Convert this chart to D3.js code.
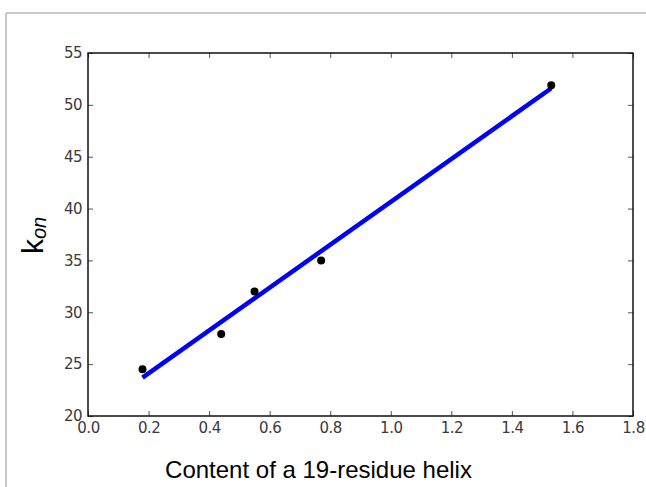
<!DOCTYPE html>
<html>
<head>
<meta charset="utf-8">
<script src="https://cdn.jsdelivr.net/npm/d3@7"></script>
<style>
  html, body { margin: 0; padding: 0; background: #fff; }
  svg { display: block; }
</style>
</head>
<body>
<script>
// Measured helix content vs. association rate
const helixContent = [0.18, 0.44, 0.55, 0.77, 1.53];
const kOn = [24.5, 27.9, 32.0, 35.0, 51.9];

// Linear fit endpoints
const fitX = [0.18, 1.53];
const fitY = [23.7, 51.6];

const xTicks = [0.0, 0.2, 0.4, 0.6, 0.8, 1.0, 1.2, 1.4, 1.6, 1.8];
const yTicks = [20, 25, 30, 35, 40, 45, 50, 55];

const W = 646, H = 487;
const plot = { left: 88, top: 53, right: 633, bottom: 416 };

const svg = d3.select("body").append("svg")
  .attr("width", W).attr("height", H);

// window frame lines
svg.append("line").attr("x1", 6).attr("x2", W).attr("y1", 13).attr("y2", 13)
  .attr("stroke", "#c8c8c8").attr("stroke-width", 2);
svg.append("line").attr("x1", 6).attr("x2", 6).attr("y1", 13).attr("y2", H)
  .attr("stroke", "#c8c8c8").attr("stroke-width", 2);

const x = d3.scaleLinear().domain([0, 1.8]).range([plot.left, plot.right]);
const y = d3.scaleLinear().domain([20, 55]).range([plot.bottom, plot.top]);

const tickFont = "'DejaVu Sans', sans-serif";

function styleAxis(g, showLabels) {
  g.select(".domain").remove();
  g.selectAll(".tick line").attr("stroke", "#555").attr("stroke-width", 1);
  g.selectAll(".tick text")
    .attr("fill", "#3a3a3a")
    .style("font-family", tickFont)
    .style("font-size", "15px")
    .style("letter-spacing", "-0.5px");
  if (!showLabels) g.selectAll(".tick text").remove();
}

// bottom axis (ticks inside)
svg.append("g").attr("transform", `translate(0,${plot.bottom})`)
  .call(d3.axisBottom(x).tickValues(xTicks).tickFormat(d3.format(".1f"))
    .tickSizeInner(-5).tickSizeOuter(0).tickPadding(6))
  .call(g => styleAxis(g, true));
// top axis
svg.append("g").attr("transform", `translate(0,${plot.top})`)
  .call(d3.axisTop(x).tickValues(xTicks).tickSizeInner(-5).tickSizeOuter(0))
  .call(g => styleAxis(g, false));
// left axis
svg.append("g").attr("transform", `translate(${plot.left},0)`)
  .call(d3.axisLeft(y).tickValues(yTicks).tickFormat(d3.format("d"))
    .tickSizeInner(-5).tickSizeOuter(0).tickPadding(6))
  .call(g => styleAxis(g, true));
// right axis
svg.append("g").attr("transform", `translate(${plot.right},0)`)
  .call(d3.axisRight(y).tickValues(yTicks).tickSizeInner(-5).tickSizeOuter(0))
  .call(g => styleAxis(g, false));

// frame
svg.append("rect")
  .attr("x", plot.left).attr("y", plot.top)
  .attr("width", plot.right - plot.left).attr("height", plot.bottom - plot.top)
  .attr("fill", "none").attr("stroke", "#111").attr("stroke-width", 1.5);

// fit line
svg.append("path")
  .datum(fitX.map((d, i) => [d, fitY[i]]))
  .attr("d", d3.line().x(d => x(d[0])).y(d => y(d[1])))
  .attr("stroke", "#0000ff").attr("stroke-width", 4.5).attr("fill", "none");

// data points
svg.append("g").selectAll("circle")
  .data(helixContent.map((d, i) => [d, kOn[i]]))
  .join("circle")
  .attr("cx", d => x(d[0])).attr("cy", d => y(d[1]))
  .attr("r", 4).attr("fill", "#000");

// axis titles
svg.append("text")
  .attr("x", (plot.left + plot.right) / 2 - 42).attr("y", 478)
  .attr("text-anchor", "middle")
  .style("font-family", "'Liberation Sans', Arial, sans-serif")
  .style("font-size", "24px")
  .attr("fill", "#000")
  .text("Content of a 19-residue helix");

const yl = svg.append("text")
  .attr("transform", "translate(43,254) rotate(-90)")
  .attr("text-anchor", "start")
  .style("font-family", "'Liberation Sans', Arial, sans-serif")
  .attr("fill", "#000");
yl.append("tspan").style("font-size", "30px").text("k");
yl.append("tspan").style("font-size", "20px").style("font-style", "italic")
  .attr("dy", 3).text("on");
</script>
</body>
</html>
